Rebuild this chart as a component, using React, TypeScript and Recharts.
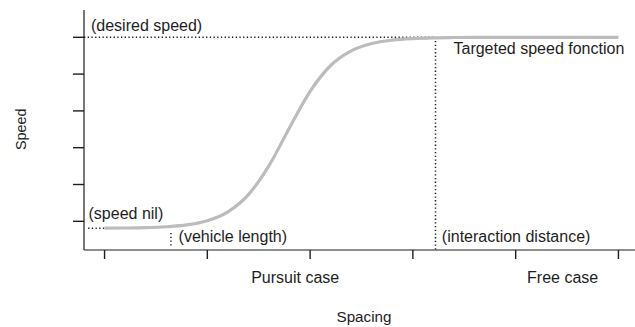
import React from 'react';
import { LineChart, Line, XAxis, YAxis, ReferenceLine, ReferenceDot } from 'recharts';

// Targeted speed function
const spacing = [0, 0.2, 0.4, 0.6, 0.8, 1.0, 1.2, 1.4, 1.6, 1.8, 2.0, 2.2, 2.4, 2.6, 2.8, 3.0, 3.2, 3.4, 3.6, 4.0, 4.5, 5.0];
const speed = [4.07, 4.09, 4.14, 4.26, 4.51, 5.08, 6.29, 8.63, 12.56, 17.72, 22.65, 26.17, 28.16, 29.16, 29.62, 29.83, 29.93, 29.97, 29.99, 30, 30, 30];

const xTicks = [0, 1, 2, 3, 4, 5];
const yTicks = [5, 10, 15, 20, 25, 30];

const desiredSpeed = 30;
const speedNil = 4.07;
const vehicleLength = 0.646;
const interactionDistance = 3.22;

const annotations = [
  { x: -0.132, y: 30.9, text: '(desired speed)', anchor: 'start' },
  { x: 3.395, y: 27.69, text: 'Targeted speed fonction', anchor: 'start' },
  { x: -0.156, y: 5.31, text: '(speed nil)', anchor: 'start' },
  { x: 0.72, y: 2.25, text: '(vehicle length)', anchor: 'start' },
  { x: 3.282, y: 2.25, text: '(interaction distance)', anchor: 'start' },
  { x: 1.855, y: -3.34, text: 'Pursuit case', anchor: 'middle' },
  { x: 4.457, y: -3.34, text: 'Free case', anchor: 'middle' },
];

const data = spacing.map((x, i) => ({ x, y: speed[i] }));

const FONT = '"Liberation Sans", Arial, Helvetica, sans-serif';
const INK = '#1e1e1e';
const DOT = '1.3 2.4';
const emptyTick = () => <g />;

export default function App() {
  return (
    <div style={{ position: 'absolute', left: 0, top: 0, width: 635, height: 327, overflow: 'hidden', background: '#fff' }}>
      <LineChart width={660} height={327} data={data} margin={{ top: 10, right: 21, bottom: 0, left: 0 }}>
        <XAxis
          dataKey="x"
          type="number"
          domain={[-0.2, 5.2]}
          ticks={xTicks}
          allowDataOverflow
          height={77}
          tick={emptyTick}
          tickSize={9}
          axisLine={{ stroke: INK, strokeWidth: 1.2 }}
          tickLine={{ stroke: INK, strokeWidth: 1.4 }}
          label={{
            content: (p: any) => (
              <text x={p.viewBox.x + p.viewBox.width / 2 + 2.5} y={p.viewBox.y + 72.3} textAnchor="middle"
                fontFamily={FONT} fontSize={15.2} fill={INK}>Spacing</text>
            ),
          }}
        />
        <XAxis xAxisId="top" orientation="top" dataKey="x" type="number" domain={[-0.2, 5.2]} height={0}
          tick={false} tickLine={false} axisLine={{ stroke: INK, strokeWidth: 1.2 }} />
        <YAxis
          type="number"
          domain={[1.1, 33.71]}
          ticks={yTicks}
          allowDataOverflow
          width={84}
          tick={emptyTick}
          tickSize={11}
          axisLine={{ stroke: INK, strokeWidth: 1.2 }}
          tickLine={{ stroke: INK, strokeWidth: 1.4 }}
          label={{
            content: (p: any) => {
              const cx = 26;
              const cy = p.viewBox.y + p.viewBox.height / 2 - 0.8;
              return (
                <text x={cx} y={cy} transform={`rotate(-90 ${cx} ${cy})`} textAnchor="middle"
                  fontFamily={FONT} fontSize={14.4} fill={INK}>Speed</text>
              );
            },
          }}
        />
        <ReferenceLine segment={[{ x: -0.2, y: desiredSpeed }, { x: interactionDistance, y: desiredSpeed }]}
          stroke={INK} strokeDasharray={DOT} strokeWidth={1.5} ifOverflow="visible" />
        <ReferenceLine segment={[{ x: interactionDistance, y: desiredSpeed }, { x: interactionDistance, y: 1.1 }]}
          stroke={INK} strokeDasharray={DOT} strokeWidth={1.5} ifOverflow="visible" />
        <ReferenceLine segment={[{ x: -0.16, y: speedNil }, { x: 0, y: speedNil }]}
          stroke={INK} strokeDasharray={DOT} strokeWidth={1.5} ifOverflow="visible" />
        <ReferenceLine segment={[{ x: vehicleLength, y: 3.4 }, { x: vehicleLength, y: 1.6 }]}
          stroke={INK} strokeDasharray={DOT} strokeWidth={1.5} ifOverflow="visible" />
        <Line dataKey="y" type="monotone" stroke="#bcbcbc" strokeWidth={3.2} dot={false} activeDot={false}
          isAnimationActive={false} />
        {annotations.map((a) => (
          <ReferenceDot key={a.text} x={a.x} y={a.y} r={0} ifOverflow="visible"
            shape={(p: any) => (
              <text x={p.cx} y={p.cy} textAnchor={a.anchor as any} fontFamily={FONT} fontSize={16} fill={INK}>{a.text}</text>
            )}
          />
        ))}
      </LineChart>
    </div>
  );
}
